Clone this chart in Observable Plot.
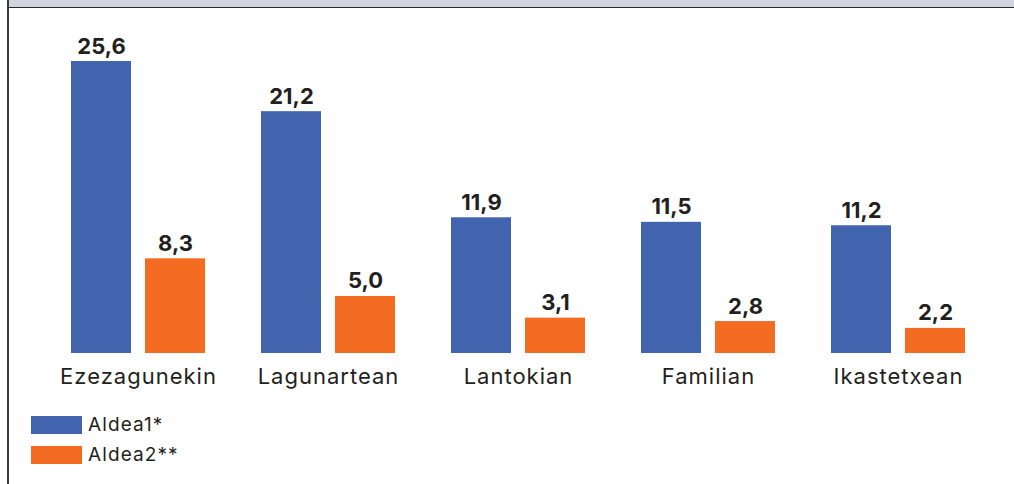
<!DOCTYPE html>
<html>
<head>
<meta charset="utf-8">
<script src="https://cdn.jsdelivr.net/npm/d3@7"></script>
<script src="https://cdn.jsdelivr.net/npm/@observablehq/plot@0.6"></script>
<style>
  html, body { margin: 0; padding: 0; background: #fff; }
  #wrap { position: relative; width: 1014px; height: 484px; overflow: hidden; font-family: Inter, "Noto Sans", sans-serif; color: #231f20; }
  #header { position: absolute; left: 7px; top: 0; width: 1007px; height: 7px; background: #d4d3e0; border-bottom: 1.5px solid #2b2b2b; z-index: 2; }
  #leftborder { position: absolute; left: 7px; top: 0; width: 2px; height: 484px; background: #3a3a3a; z-index: 3; }
  #chart { position: absolute; left: 0; top: 9px; }
  #legend { position: absolute; left: 31px; top: 416px; }
  .item { position: relative; height: 18px; margin-bottom: 12px; }
  .sw { position: absolute; left: 0; top: 0; width: 51px; height: 18px; }
  .lab { position: absolute; left: 57px; top: -3px; font-size: 19px; letter-spacing: 1.1px; line-height: 24px; white-space: nowrap; }
  .cat { letter-spacing: 1px; }
</style>
</head>
<body>
<div id="wrap">
  <div id="header"></div>
  <div id="leftborder"></div>
  <div id="chart"></div>
  <div id="legend"></div>
</div>
<script>
const categories = ["Ezezagunekin", "Lagunartean", "Lantokian", "Familian", "Ikastetxean"];
const series = ["Aldea1*", "Aldea2**"];
const aldea1 = [25.6, 21.2, 11.9, 11.5, 11.2];
const aldea2 = [8.3, 5.0, 3.1, 2.8, 2.2];
const colors = ["#4263ae", "#f46c22"];

const data = [];
categories.forEach((c, i) => {
  data.push({category: c, series: series[0], value: aldea1[i]});
  data.push({category: c, series: series[1], value: aldea2[i]});
});
const fmt = v => v.toFixed(1).replace(".", ",");

const plot = Plot.plot({
  width: 1014,
  height: 390,
  marginTop: 52,
  marginBottom: 46,
  marginLeft: 43,
  marginRight: 21,
  style: {background: "transparent", fontFamily: "Inter, 'Noto Sans', sans-serif", color: "#231f20"},
  fx: {domain: categories, axis: null, paddingInner: 0, paddingOuter: 0},
  x: {domain: series, axis: null, paddingInner: 0.189, paddingOuter: 0.375},
  y: {domain: [0, 25.6], axis: null},
  color: {domain: series, range: colors},
  marks: [
    Plot.barY(data, {fx: "category", x: "series", y: "value", fill: "series"}),
    Plot.text(data, {fx: "category", x: "series", y: "value", text: d => fmt(d.value),
      lineAnchor: "bottom", dy: -8, fontSize: 22, fontWeight: 700, fill: "#231f20"}),
    Plot.text(categories, {fx: d => d, text: d => d, frameAnchor: "bottom", lineAnchor: "bottom",
      dy: 30.5, fontSize: 22, fill: "#231f20", className: "cat"})
  ]
});
document.getElementById("chart").appendChild(plot);

const legend = document.getElementById("legend");
series.forEach((s, i) => {
  const it = document.createElement("div");
  it.className = "item";
  it.innerHTML = `<div class="sw" style="background:${colors[i]}"></div><div class="lab"></div>`;
  it.querySelector(".lab").textContent = s;
  legend.appendChild(it);
});
</script>
</body>
</html>
